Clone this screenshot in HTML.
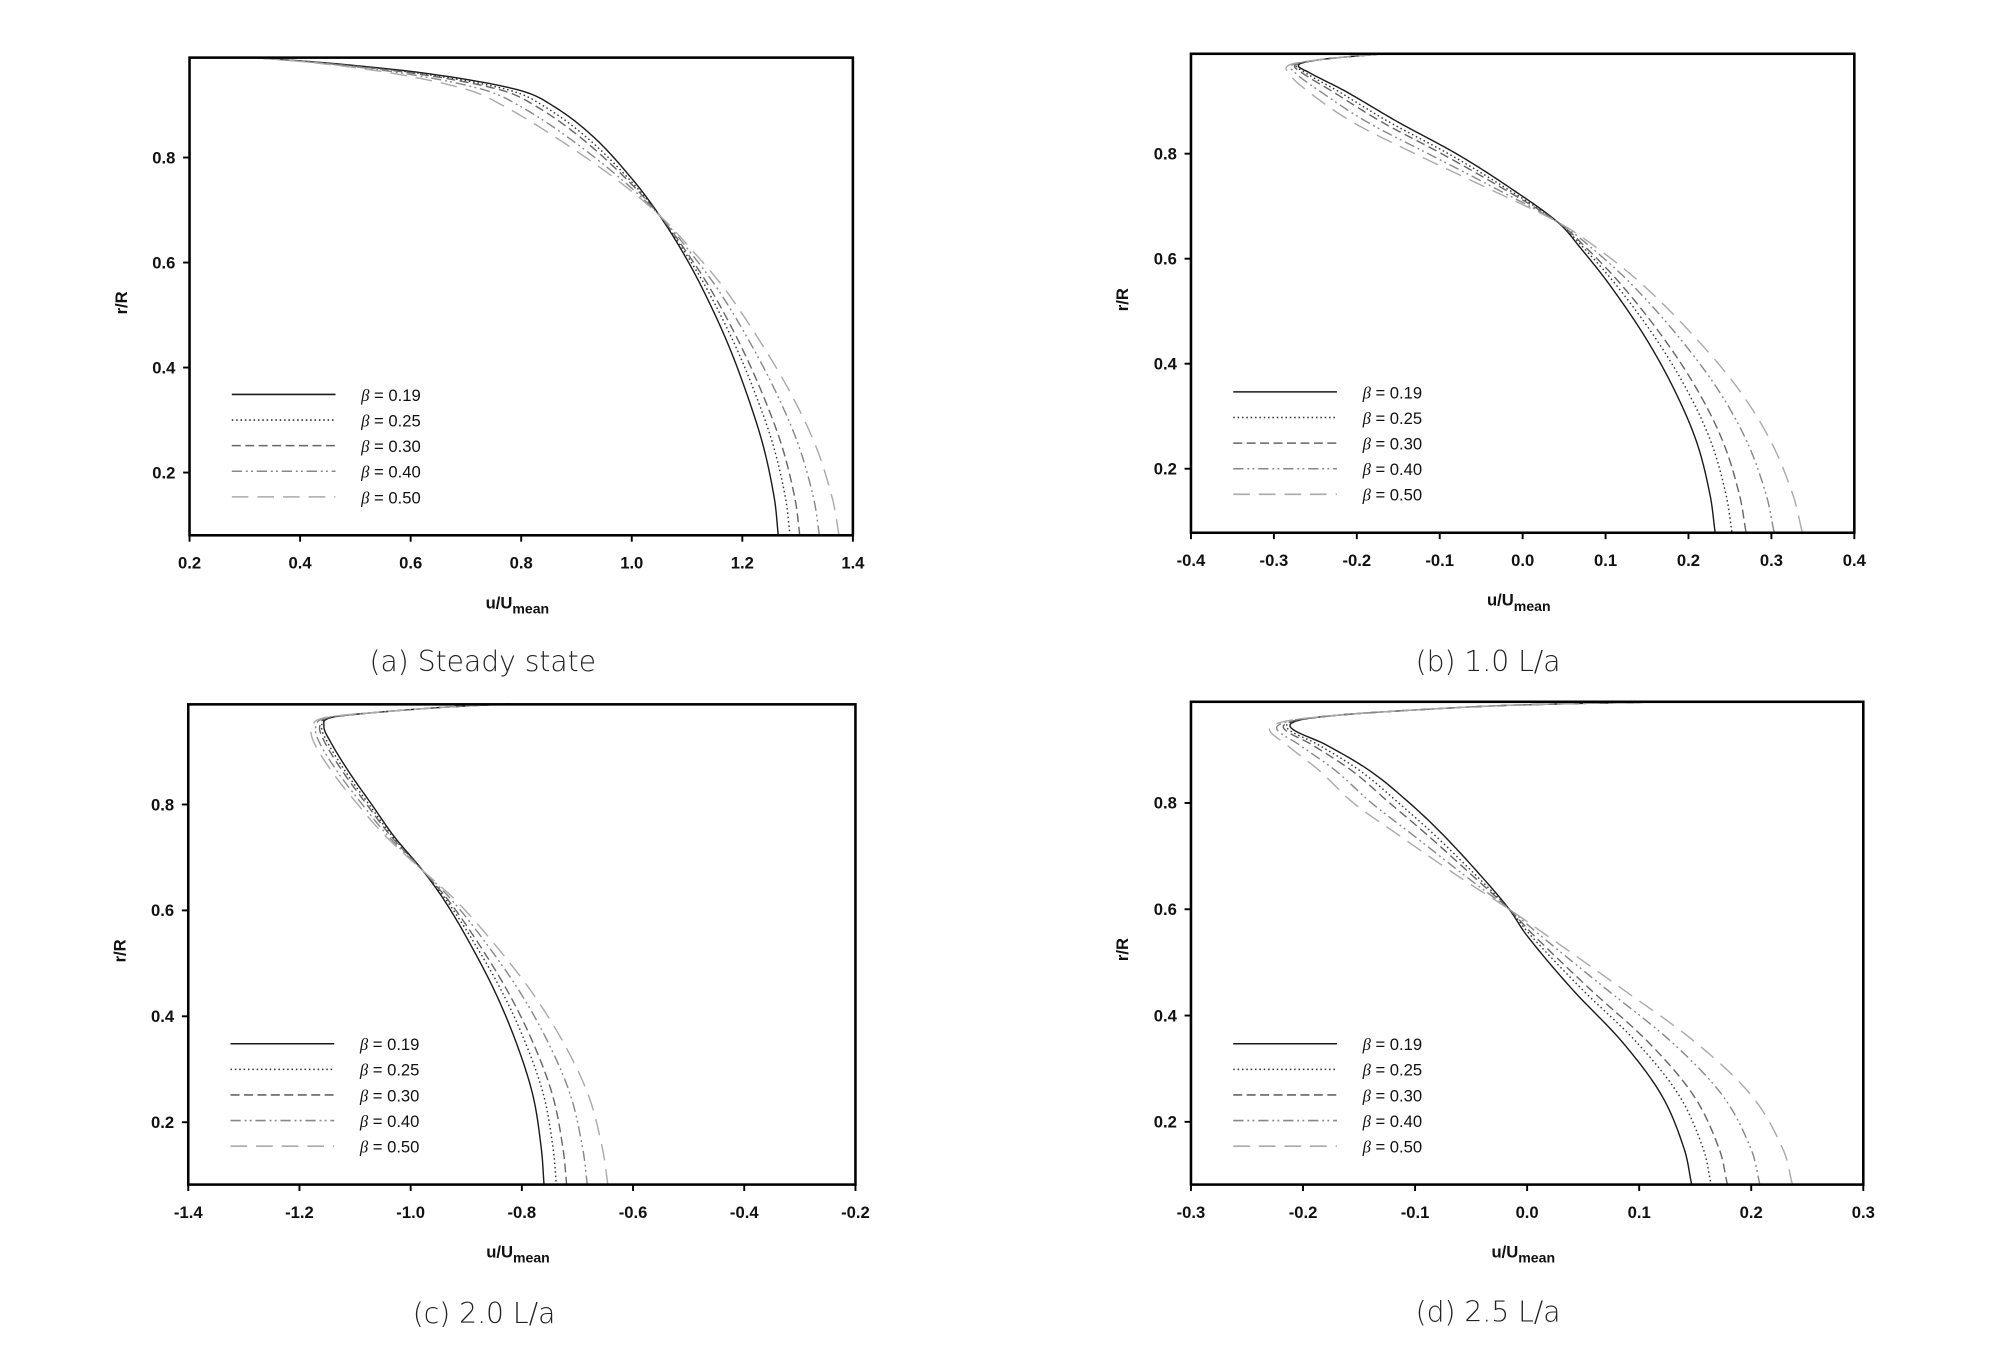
<!DOCTYPE html>
<html><head><meta charset="utf-8">
<style>
html,body{margin:0;padding:0;background:#fff;}
svg{display:block;}
.tk{font-family:"Liberation Sans",Arial,sans-serif;font-weight:bold;font-size:13px;fill:#111;}
.lg{font-family:"Liberation Sans",Arial,sans-serif;font-size:13px;fill:#111;}
.cap{font-family:"DejaVu Sans","Liberation Sans",sans-serif;font-size:22px;fill:#222;font-weight:300;}
</style></head>
<body>
<svg id="s" width="2008" height="1348" viewBox="0 0 1568 1052.6" preserveAspectRatio="none" xmlns="http://www.w3.org/2000/svg"></svg>
<script>
const S=document.getElementById('s');
const NS='http://www.w3.org/2000/svg';
function el(t,a,txt){const e=document.createElementNS(NS,t);for(const k in a)e.setAttribute(k,a[k]);if(txt!==undefined)e.textContent=txt;S.appendChild(e);return e;}
const styles=[
 {c:'#1a1a1a',d:''},
 {c:'#333',d:'1.2,2.2'},
 {c:'#666',d:'7,3.5'},
 {c:'#888',d:'8,3,1.5,2.5,1.5,3'},
 {c:'#aaa',d:'13,7'}];
const betas=[0.19,0.25,0.30,0.40,0.50];
function interp(xs,ys,x){
  let i=0;while(i<xs.length-2&&x>xs[i+1])i++;
  const x0=xs[i],x1=xs[i+1];const t=(x-x0)/(x1-x0);
  const m=(k)=>{if(k<=0)return (ys[1]-ys[0])/(xs[1]-xs[0]);if(k>=xs.length-1)return (ys[k]-ys[k-1])/(xs[k]-xs[k-1]);return (ys[k+1]-ys[k-1])/(xs[k+1]-xs[k-1]);};
  const h=x1-x0,t2=t*t,t3=t2*t;
  return (2*t3-3*t2+1)*ys[i]+(t3-2*t2+t)*h*m(i)+(-2*t3+3*t2)*ys[i+1]+(t3-t2)*h*m(i+1);
}
function panel(p){
  const X=u=>p.x0+(u-p.umin)/(p.umax-p.umin)*(p.x1-p.x0);
  const Y=r=>p.yz-r*p.ys;
  betas.forEach((b,i)=>{
    const s=(b-0.19)/0.31;let d='';
    for(let k=0;k<=300;k++){const r=0.08+(0.99-0.08)*k/300;
      const u=interp(p.r,p.u,r)+s*interp(p.r,p.d,r);
      d+=(k?'L':'M')+X(u).toFixed(2)+','+Y(r).toFixed(2);}
    el('path',{d:d,fill:'none',stroke:styles[i].c,'stroke-width':1.1,'stroke-dasharray':styles[i].d});
  });
  el('rect',{x:p.x0,y:p.y0,width:p.x1-p.x0,height:p.y1-p.y0,fill:'none',stroke:'#000','stroke-width':2});
  [0.2,0.4,0.6,0.8].forEach(v=>{const y=Y(v);el('line',{x1:p.x0-5,x2:p.x0,y1:y,y2:y,stroke:'#000','stroke-width':1.5});
    el('text',{x:p.x0-11,y:y+4.5,'text-anchor':'end',class:'tk'},v.toFixed(1));});
  p.xt.forEach(v=>{const x=X(v);el('line',{x1:x,x2:x,y1:p.y1,y2:p.y1+5,stroke:'#000','stroke-width':1.5});
    el('text',{x:x,y:p.y1+26,'text-anchor':'middle',class:'tk'},v.toFixed(1));});
  const cx=(p.x0+p.x1)/2;
  const t=el('text',{x:cx-3,y:p.y1+57,'text-anchor':'middle',class:'tk','font-size':'14'});
  t.innerHTML='u/U<tspan dy="4" font-size="11">mean</tspan>';
  el('text',{x:0,y:0,transform:`translate(${p.x0-49},${(p.y0+p.y1)/2+5}) rotate(-90)`,'text-anchor':'middle',class:'tk','font-size':'14'},'r/R');
  betas.forEach((b,i)=>{const y=p.ly+i*20;
    el('line',{x1:p.x0+33,x2:p.x0+114,y1:y,y2:y,stroke:styles[i].c,'stroke-width':1.2,'stroke-dasharray':styles[i].d});
    const tt=el('text',{x:p.x0+134,y:y+5,class:'lg'});
    tt.innerHTML='<tspan font-family="Liberation Serif" font-style="italic">β</tspan> = '+b.toFixed(2);});
  el('text',{x:p.cx,y:p.cy,'text-anchor':'middle',class:'cap'},p.cap);
}
panel({x0:148,x1:666,y0:45,y1:418,umin:0.2,umax:1.4,yz:451,ys:410,xt:[0.2,0.4,0.6,0.8,1.0,1.2,1.4],ly:308,cx:377,cy:524,cap:'(a) Steady state',
 r:[0.08,0.15,0.25,0.35,0.45,0.55,0.62,0.69,0.76,0.84,0.90,0.93,0.96,0.98,0.99],
 u:[1.265,1.258,1.238,1.208,1.172,1.128,1.092,1.05,1.0,0.93,0.855,0.79,0.63,0.45,0.32],
 d:[0.11,0.105,0.095,0.08,0.06,0.04,0.02,0,-0.03,-0.07,-0.09,-0.09,-0.06,-0.02,0]});
panel({x0:930,x1:1448,y0:42,y1:416,umin:-0.4,umax:0.4,yz:448,ys:410,xt:[-0.4,-0.3,-0.2,-0.1,0.0,0.1,0.2,0.3,0.4],ly:306,cx:1162,cy:524,cap:'(b) 1.0 L/a',
 r:[0.08,0.15,0.25,0.35,0.45,0.55,0.62,0.67,0.74,0.80,0.86,0.92,0.955,0.97,0.98,0.99],
 u:[0.232,0.226,0.21,0.183,0.148,0.105,0.07,0.042,-0.02,-0.08,-0.15,-0.215,-0.258,-0.27,-0.24,-0.17],
 d:[0.105,0.10,0.09,0.078,0.06,0.04,0.02,0,-0.03,-0.05,-0.055,-0.045,-0.025,-0.01,0,0]});
panel({x0:147,x1:668,y0:550,y1:925,umin:-1.4,umax:-0.2,yz:959,ys:413.5,xt:[-1.4,-1.2,-1.0,-0.8,-0.6,-0.4,-0.2],ly:815,cx:378,cy:1033,cap:'(c) 2.0 L/a',
 r:[0.08,0.15,0.25,0.35,0.45,0.55,0.62,0.675,0.74,0.80,0.86,0.92,0.95,0.965,0.975,0.985,0.99],
 u:[-0.76,-0.765,-0.78,-0.81,-0.85,-0.9,-0.94,-0.978,-1.03,-1.07,-1.11,-1.145,-1.156,-1.14,-1.05,-0.92,-0.82],
 d:[0.115,0.11,0.1,0.085,0.065,0.04,0.02,0,-0.015,-0.025,-0.03,-0.03,-0.02,-0.01,0,0,0]});
panel({x0:930,x1:1455,y0:548,y1:925,umin:-0.3,umax:0.3,yz:959,ys:415,xt:[-0.3,-0.2,-0.1,0.0,0.1,0.2,0.3],ly:815,cx:1162,cy:1032,cap:'(d) 2.5 L/a',
 r:[0.08,0.15,0.25,0.35,0.45,0.55,0.6,0.66,0.74,0.80,0.86,0.91,0.94,0.955,0.965,0.975,0.985,0.99],
 u:[0.147,0.14,0.12,0.085,0.04,0.0,-0.016,-0.04,-0.075,-0.105,-0.14,-0.18,-0.21,-0.205,-0.17,-0.1,0.0,0.12],
 d:[0.09,0.088,0.08,0.065,0.045,0.018,0,-0.02,-0.04,-0.05,-0.045,-0.035,-0.02,-0.008,0,0,0,0]});
</script>
</body></html>
